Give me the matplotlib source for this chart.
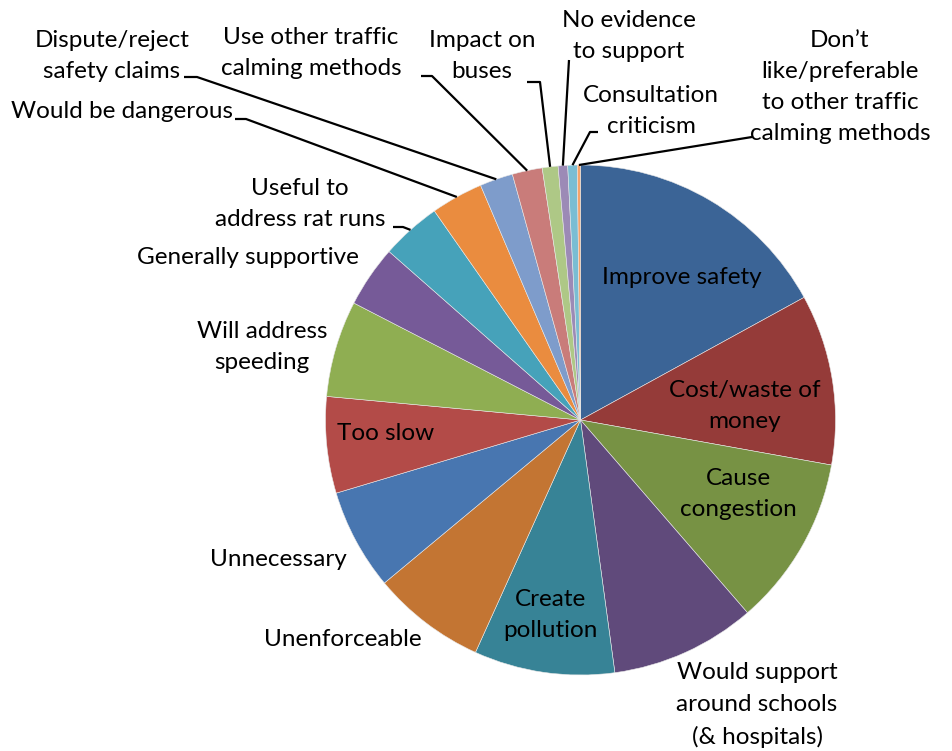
import numpy as np
import matplotlib
matplotlib.use("Agg")
import matplotlib.pyplot as plt

plt.rcParams["font.family"] = ["Lato", "DejaVu Sans"]

# Reasons given, share of comments (%), clockwise from 12 o'clock
reasons = [
    "Improve safety", "Cost/waste of money", "Cause congestion",
    "Would support around schools (& hospitals)", "Create pollution",
    "Unenforceable", "Unnecessary", "Too slow", "Will address speeding",
    "Generally supportive", "Useful to address rat runs",
    "Would be dangerous", "Dispute/reject safety claims",
    "Use other traffic calming methods", "Impact on buses",
    "No evidence to support", "Consultation criticism",
    "Don't like/preferable to other traffic calming methods",
]
shares = [17.0, 10.8, 10.8, 9.2, 8.9, 7.2, 6.4, 6.1, 6.1,
          3.9, 3.8, 3.3, 2.1, 1.9, 1.0, 0.6, 0.6, 0.2]
colors = ["#3b6496", "#953b39", "#779244", "#604a7b", "#378396",
          "#c37533", "#4876b0", "#b34b48", "#8fae52", "#765a98",
          "#46a2ba", "#ea8c3f", "#7e9ccb", "#c97c7a", "#aec886",
          "#9c8ab6", "#7abdd3", "#f5a46c"]

# label text, centre position (px from top-left), and leader line start
labels = {
    0: ("Improve safety", (682, 278), None),
    1: ("Cost/waste of\nmoney", (745, 406), None),
    2: ("Cause\ncongestion", (738, 494), None),
    3: ("Would support\naround schools\n(& hospitals)", (757, 705), None),
    4: ("Create\npollution", (550, 615), None),
    5: ("Unenforceable", (343, 640), None),
    6: ("Unnecessary", (278, 560), None),
    7: ("Too slow", (386, 433), None),
    8: ("Will address\nspeeding", (262, 347), None),
    9: ("Generally supportive", (248, 258), None),
    10: ("Useful to\naddress rat runs", (300, 204), [(393, 227), (403, 227)]),
    11: ("Would be dangerous", (122, 111), [(235, 119), (246, 119)]),
    12: ("Dispute/reject\nsafety claims", (112, 56), [(184, 77), (197, 77)]),
    13: ("Use other traffic\ncalming methods", (311, 53), [(421, 76), (432, 76)]),
    14: ("Impact on\nbuses", (482, 56), [(527, 82), (540, 82)]),
    15: ("No evidence\nto support", (629, 36), [(569, 60)]),
    16: ("Consultation\ncriticism", (651, 111), [(598, 132), (590, 132)]),
    17: ("Don\u2019t\nlike/preferable\nto other traffic\ncalming methods", (840, 87), [(752, 137)]),
}

W, H = 952, 751
cx, cy, r = 580.5, H - 420, 255

fig = plt.figure(figsize=(W / 100, H / 100), dpi=100)
ax = fig.add_axes([0, 0, 1, 1])
wedges, _ = ax.pie(shares, colors=colors, startangle=90, counterclock=False,
                   center=(cx, cy), radius=r,
                   wedgeprops=dict(edgecolor="#e8e8e8", linewidth=0.4))
ax.set_xlim(0, W)
ax.set_ylim(0, H)
ax.set_aspect("equal")
ax.axis("off")

for i, (text, (x, y), leader) in labels.items():
    ax.text(x, H - y, text, ha="center", va="center", fontsize=17.5,
            linespacing=1.6, color="black")
    if leader:
        w = wedges[i]
        mid = np.deg2rad((w.theta1 + w.theta2) / 2)
        ex, ey = cx + r * np.cos(mid), cy + r * np.sin(mid)
        xs = [p[0] for p in leader] + [ex]
        ys = [H - p[1] for p in leader] + [ey]
        ax.plot(xs, ys, color="black", lw=1.6, solid_capstyle="butt")

fig.savefig("out.png", dpi=100)
